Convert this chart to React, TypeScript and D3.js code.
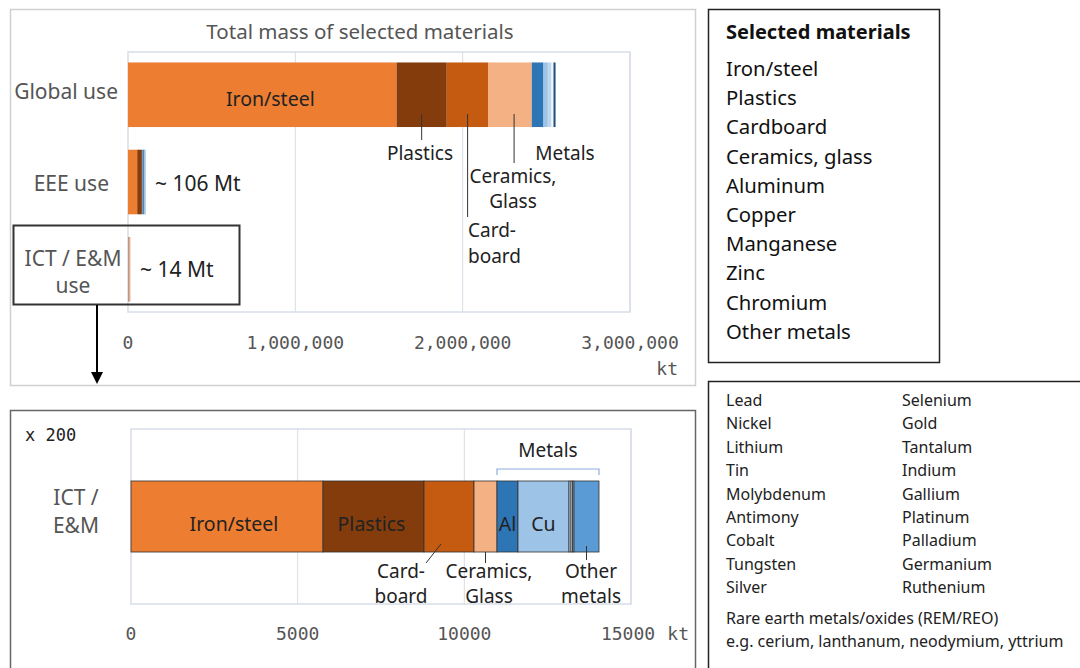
import React from "react";
import * as d3 from "d3";

const materials = ["Iron/steel", "Plastics", "Cardboard", "Ceramics, glass", "Aluminum", "Copper", "Manganese", "Zinc", "Chromium", "Other metals"];
const topColors = ["#ED7D31", "#843C0C", "#C55A11", "#F4B183", "#2E75B6", "#9DC3E6", "#BDD7EE", "#F2F7FC", "#DEEBF7", "#1F4E79"];
const bottomColors = ["#ED7D31", "#843C0C", "#C55A11", "#F4B183", "#2E75B6", "#9DC3E6", "#BDD7EE", "#DEEBF7", "#9DC3E6", "#5B9BD5"];

const topRows = ["Global use", "EEE use", "ICT / E&M use"];
const globalUse = [1605000, 300000, 249000, 259000, 70000, 26000, 22000, 8000, 4000, 12000];
const eeeUse = [55000, 28000, 2000, 1000, 9000, 8000, 1000, 500, 500, 1000];
const ictUse = [5760, 3030, 1500, 690, 630, 1530, 60, 45, 45, 750];
const topTicks = [0, 1000000, 2000000, 3000000];
const bottomTicks = [0, 5000, 10000, 15000];

const legendLeft = ["Lead", "Nickel", "Lithium", "Tin", "Molybdenum", "Antimony", "Cobalt", "Tungsten", "Silver"];
const legendRight = ["Selenium", "Gold", "Tantalum", "Indium", "Gallium", "Platinum", "Palladium", "Germanium", "Ruthenium"];

const FONT = "'Noto Sans', sans-serif";
const MONO = "'DejaVu Sans Mono', monospace";

function stack(vals: number[]) {
  let acc = 0;
  return vals.map((v) => {
    const s = acc;
    acc += v;
    return [s, acc];
  });
}

export default function App() {
  const xTop = d3.scaleLinear().domain([0, 3000000]).range([128, 630]);
  const yTop = d3.scaleBand<string>().domain(topRows).range([52, 312]).paddingInner(0.26).paddingOuter(0.12);
  const xBot = d3.scaleLinear().domain([0, 15000]).range([131, 631]);
  const yBot = d3.scaleBand<string>().domain(["ICT / E&M"]).range([429, 604]).paddingOuter(0.732);

  const topData = [globalUse, eeeUse, ictUse];
  const fmt = d3.format(",");

  const gY = yTop("Global use")!;
  const gB = gY + yTop.bandwidth();
  const gStack = stack(globalUse);
  const mid = (i: number, st: number[][], sc: any) => (sc(st[i][0]) + sc(st[i][1])) / 2;

  const bY = yBot("ICT / E&M")!;
  const bB = bY + yBot.bandwidth();
  const bStack = stack(ictUse);

  return (
    <svg width={1080} height={668} style={{ position: "absolute", left: 0, top: 0, background: "#fff" }}>
      <rect x={0} y={0} width={1080} height={668} fill="#fff" />
      {/* Top panel */}
      <rect x={10.5} y={9.5} width={685} height={376} fill="none" stroke="#d0d0d0" strokeWidth={1.5} />
      <text x={360} y={39} textAnchor="middle" fontFamily={FONT} fontSize={20.5} fill="#555">Total mass of selected materials</text>
      <rect x={128} y={52} width={502} height={260} fill="none" stroke="#d6dde9" strokeWidth={1.5} />
      {topTicks.slice(1).map((t) => (
        <line key={t} x1={xTop(t)} x2={xTop(t)} y1={52} y2={312} stroke="#d9dde5" strokeWidth={1} />
      ))}
      {topData.map((vals, r) => {
        const st = stack(vals);
        const y = yTop(topRows[r])!;
        return st.map((s, i) => (
          <rect key={r + "-" + i} x={xTop(s[0])} y={y} width={Math.max(0, xTop(s[1]) - xTop(s[0]))} height={yTop.bandwidth()}
            fill={r === 2 ? "#C9907A" : topColors[i]} />
        ));
      })}
      {topTicks.map((t) => (
        <text key={t} x={xTop(t)} y={349} textAnchor="middle" fontFamily={MONO} fontSize={18} fill="#555">{fmt(t)}</text>
      ))}
      <text x={678} y={375} textAnchor="end" fontFamily={MONO} fontSize={18} fill="#555">kt</text>
      <text x={118} y={99} textAnchor="end" fontFamily={FONT} fontSize={21} fill="#555">Global use</text>
      <text x={109} y={191} textAnchor="end" fontFamily={FONT} fontSize={21} fill="#555">EEE use</text>
      <text x={73} y={266} textAnchor="middle" fontFamily={FONT} fontSize={21} fill="#555">ICT / E&amp;M</text>
      <text x={73} y={293} textAnchor="middle" fontFamily={FONT} fontSize={21} fill="#555">use</text>
      <rect x={13.5} y={225.5} width={226} height={79} fill="none" stroke="#333" strokeWidth={2} />
      <text x={155} y={191} fontFamily={FONT} fontSize={21} fill="#222">~ 106 Mt</text>
      <text x={140} y={277} fontFamily={FONT} fontSize={21} fill="#222">~ 14 Mt</text>
      <text x={mid(0, gStack, xTop) + 8} y={106} textAnchor="middle" fontFamily={FONT} fontSize={19.5} fill="#222">Iron/steel</text>
      {/* annotations top */}
      <line x1={mid(1, gStack, xTop)} x2={mid(1, gStack, xTop)} y1={gB - 13} y2={140} stroke="#333" strokeWidth={1} />
      <text x={420} y={160} textAnchor="middle" fontFamily={FONT} fontSize={19} fill="#222">Plastics</text>
      <line x1={mid(2, gStack, xTop)} x2={mid(2, gStack, xTop)} y1={gB - 13} y2={217} stroke="#333" strokeWidth={1} />
      <text x={468} y={237} fontFamily={FONT} fontSize={19} fill="#222">Card-</text>
      <text x={468} y={263} fontFamily={FONT} fontSize={19} fill="#222">board</text>
      <line x1={mid(3, gStack, xTop) + 4} x2={mid(3, gStack, xTop) + 4} y1={gB - 13} y2={163} stroke="#333" strokeWidth={1} />
      <text x={513} y={183} textAnchor="middle" fontFamily={FONT} fontSize={19} fill="#222">Ceramics,</text>
      <text x={513} y={208} textAnchor="middle" fontFamily={FONT} fontSize={19} fill="#222">Glass</text>
      <text x={565} y={160} textAnchor="middle" fontFamily={FONT} fontSize={19} fill="#222">Metals</text>
      {/* arrow */}
      <line x1={97} x2={97} y1={305} y2={374} stroke="#000" strokeWidth={2} />
      <path d="M91,372 L103,372 L97,384 Z" fill="#000" />

      {/* Bottom panel */}
      <rect x={10.5} y={410.5} width={685} height={262} fill="none" stroke="#666" strokeWidth={1.5} />
      <text x={25} y={441} fontFamily={MONO} fontSize={17} fill="#222">x 200</text>
      <rect x={131} y={429} width={500} height={175} fill="none" stroke="#d6dde9" strokeWidth={1.5} />
      {bottomTicks.slice(1).map((t) => (
        <line key={t} x1={xBot(t)} x2={xBot(t)} y1={429} y2={604} stroke="#d9dde5" strokeWidth={1} />
      ))}
      {bStack.map((s, i) => (
        <rect key={i} x={xBot(s[0])} y={bY} width={xBot(s[1]) - xBot(s[0])} height={yBot.bandwidth()}
          fill={bottomColors[i]} stroke="#333" strokeWidth={0.8} />
      ))}
      {bottomTicks.map((t, i) => (
        <text key={t} x={i === 3 ? xBot(t) - 3 : xBot(t)} y={640} textAnchor="middle" fontFamily={MONO} fontSize={18} fill="#555">{t}</text>
      ))}
      <text x={689} y={640} textAnchor="end" fontFamily={MONO} fontSize={18} fill="#555">kt</text>
      <text x={76} y={505} textAnchor="middle" fontFamily={FONT} fontSize={21} fill="#555">ICT /</text>
      <text x={76} y={533} textAnchor="middle" fontFamily={FONT} fontSize={21} fill="#555">E&amp;M</text>
      <text x={mid(0, bStack, xBot) + 7} y={531} textAnchor="middle" fontFamily={FONT} fontSize={19.5} fill="#222">Iron/steel</text>
      <text x={mid(1, bStack, xBot) - 2} y={531} textAnchor="middle" fontFamily={FONT} fontSize={19.5} fill="#222">Plastics</text>
      <text x={mid(4, bStack, xBot)} y={531} textAnchor="middle" fontFamily={FONT} fontSize={19.5} fill="#222">Al</text>
      <text x={mid(5, bStack, xBot)} y={531} textAnchor="middle" fontFamily={FONT} fontSize={19.5} fill="#222">Cu</text>
      {/* metals bracket */}
      <path d={`M${xBot(bStack[4][0])},475 L${xBot(bStack[4][0])},469 L${xBot(bStack[9][1])},469 L${xBot(bStack[9][1])},475`} fill="none" stroke="#8FAADC" strokeWidth={1.2} />
      <text x={(xBot(bStack[4][0]) + xBot(bStack[9][1])) / 2} y={457} textAnchor="middle" fontFamily={FONT} fontSize={19} fill="#222">Metals</text>
      {/* annotations bottom */}
      <line x1={mid(2, bStack, xBot) - 8} y1={bB - 8} x2={426} y2={563} stroke="#333" strokeWidth={1} />
      <text x={401} y={578} textAnchor="middle" fontFamily={FONT} fontSize={19} fill="#222">Card-</text>
      <text x={401} y={603} textAnchor="middle" fontFamily={FONT} fontSize={19} fill="#222">board</text>
      <line x1={mid(3, bStack, xBot)} x2={mid(3, bStack, xBot)} y1={bB} y2={563} stroke="#333" strokeWidth={1} />
      <text x={489} y={578} textAnchor="middle" fontFamily={FONT} fontSize={19} fill="#222">Ceramics,</text>
      <text x={489} y={603} textAnchor="middle" fontFamily={FONT} fontSize={19} fill="#222">Glass</text>
      <line x1={mid(9, bStack, xBot)} x2={mid(9, bStack, xBot)} y1={bB - 6} y2={560} stroke="#333" strokeWidth={1} />
      <text x={591} y={578} textAnchor="middle" fontFamily={FONT} fontSize={19} fill="#222">Other</text>
      <text x={591} y={603} textAnchor="middle" fontFamily={FONT} fontSize={19} fill="#222">metals</text>

      {/* Legend 1 */}
      <rect x={708.5} y={9.5} width={231} height={353} fill="none" stroke="#222" strokeWidth={1.5} />
      <text x={726} y={39} fontFamily={FONT} fontSize={20} fontWeight="bold" fill="#111">Selected materials</text>
      {materials.map((m, i) => (
        <text key={m} x={726} y={76 + i * 29.2} fontFamily={FONT} fontSize={20.3} fill="#111">{m}</text>
      ))}
      {/* Legend 2 */}
      <rect x={708.5} y={381.5} width={380} height={300} fill="none" stroke="#222" strokeWidth={1.5} />
      {legendLeft.map((m, i) => (
        <text key={m} x={726} y={406 + i * 23.4} fontFamily={FONT} fontSize={16} fill="#222">{m}</text>
      ))}
      {legendRight.map((m, i) => (
        <text key={m} x={902} y={406 + i * 23.4} fontFamily={FONT} fontSize={16} fill="#222">{m}</text>
      ))}
      <text x={726} y={624} fontFamily={FONT} fontSize={16} fill="#222">Rare earth metals/oxides (REM/REO)</text>
      <text x={726} y={647} fontFamily={FONT} fontSize={16} fill="#222">e.g. cerium, lanthanum, neodymium, yttrium</text>
    </svg>
  );
}
